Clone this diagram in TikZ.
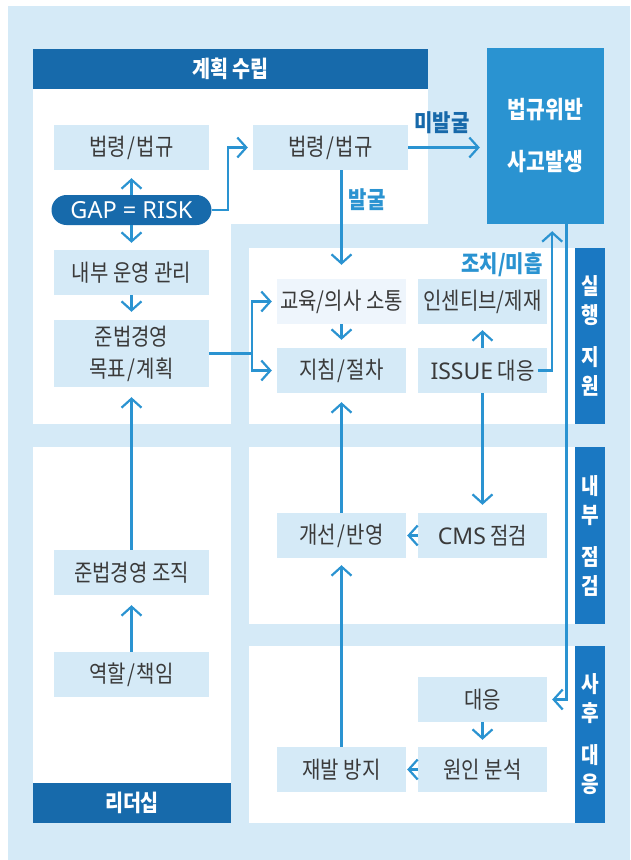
\documentclass[tikz,border=0pt]{standalone}
\usepackage{fontspec}
\setmainfont{Noto Sans CJK KR}[FakeStretch=0.85]
\newfontfamily\lat{Noto Sans}
\usetikzlibrary{arrows.meta}
\definecolor{bgl}{HTML}{D5EAF7}
\definecolor{hdr}{HTML}{176AAB}
\definecolor{bigc}{HTML}{2A93D1}
\definecolor{sidec}{HTML}{1A78C2}
\definecolor{arrc}{HTML}{2A93D1}
\definecolor{txtc}{HTML}{3A3A3A}
\definecolor{litec}{HTML}{EEF5FC}
\definecolor{lblc}{HTML}{1769AA}
\newcommand{\sls}{\kern1.5pt/\kern1.5pt}
\begin{document}
\begin{tikzpicture}[x=1pt,y=-1pt,
  box/.style={fill=bgl, text=txtc, minimum height=45pt, inner sep=0pt, align=center,
    font=\fontsize{23.5}{28}\selectfont},
  wbox/.style={box, minimum width=155pt},
  nbox/.style={box, minimum width=129pt},
  hdrbox/.style={fill=hdr, text=white, inner sep=0pt, minimum height=40pt,
    minimum width=198pt, font=\bfseries\fontsize{23}{28}\selectfont},
  sidebox/.style={fill=sidec, text=white, inner sep=0pt, minimum width=30pt,
    align=center, font=\bfseries\fontsize{22.5}{29}\selectfont},
  conn/.style={draw=arrc, line width=2.2pt, -{Straight Barb[length=9pt,width=20pt]}},
  lbl/.style={inner sep=0pt, font=\bfseries\fontsize{23.5}{28}\selectfont},
]
\useasboundingbox (0,0) rectangle (630,860);
\fill[white] (0,0) rectangle (630,860);
\fill[bgl] (8,6) rectangle (630,860);
% planning panel (L-shaped)
\fill[white] (33,89) rectangle (428,224);
\fill[white] (33,224) rectangle (231,424);
\node[hdrbox, minimum width=395pt] (planh) at (230.5,69) {계획 수립};
% leadership panel
\fill[white] (33,447) rectangle (231,783);
\node[hdrbox] (leadh) at (132,803) {리더십};
% right panels
\fill[white] (249,248) rectangle (575,424);
\fill[white] (249,447) rectangle (575,624);
\fill[white] (249,646) rectangle (575,823);
\node[sidebox, minimum height=176pt] (s1) at (590,336) {실\\행\\[13pt]지\\원};
\node[sidebox, minimum height=177pt] (s2) at (590,535.5) {내\\부\\[13pt]점\\검};
\node[sidebox, minimum height=177pt] (s3) at (590,734.5) {사\\후\\[13pt]대\\응};
% big box
\node[fill=bigc, text=white, inner sep=0pt, minimum width=117pt, minimum height=176pt,
  align=center, font=\bfseries\fontsize{24}{52}\selectfont] (viol) at (545.5,136) {법규위반\\사고발생};
% left column
\node[wbox] (blL) at (131.5,147.5) {법령\sls 법규};
\node[fill=hdr, text=white, rounded corners=15pt, minimum width=160pt, minimum height=30pt,
  inner sep=0pt, font=\lat\bfseries\fontsize{23.5}{26}\selectfont] (gap) at (131.5,210) {GAP = RISK};
\node[wbox] (ops) at (131.5,272.5) {내부 운영 관리};
\node[wbox, minimum height=67pt, font=\fontsize{23.5}{32}\selectfont] (goal) at (131.5,353.5) {준법경영\\목표\sls 계획};
\node[wbox] (org) at (131.5,572.5) {준법경영 조직};
\node[wbox] (role) at (131.5,674.5) {역할\sls 책임};
% middle / right columns
\node[wbox] (blM) at (330.5,147.5) {법령\sls 법규};
\node[nbox, fill=litec] (edu) at (341.5,301.5) {교육/의사 소통};
\node[nbox] (guide) at (341.5,370.5) {지침\sls 절차};
\node[nbox] (inc) at (482.5,301.5) {인센티브/제재};
\node[nbox] (issue) at (482.5,370.5) {{\lat\fontsize{23}{26}\selectfont ISSUE} 대응};
\node[nbox] (imp) at (341.5,535.5) {개선\sls 반영};
\node[nbox] (cms) at (482.5,535.5) {{\lat\fontsize{23}{26}\selectfont CMS} 점검};
\node[nbox] (resp) at (482.5,699.5) {대응};
\node[nbox] (cause) at (482.5,769.5) {원인 분석};
\node[nbox] (prev) at (341.5,769.5) {재발 방지};
% labels
\node[lbl, text=lblc] (lbA) at (442,123) {미발굴};
\node[lbl, text=arrc] (lbB) at (367,200) {발굴};
\node[lbl, text=arrc] (lbC) at (502,265) {조치/미흡};
% connectors
\draw[conn, shorten >=8pt] (gap.north) -- (blL.south);
\draw[conn, shorten >=7pt] (gap.south) -- (ops.north);
\draw[conn, shorten >=8pt] (ops.south) -- (goal.north);
\draw[conn, shorten >=10pt] (org.north) -- (goal.south);
\draw[conn, shorten >=10pt] (role.north) -- (org.south);
\draw[conn, shorten >=5pt] (gap.east) -| ([xshift=-25pt]blM.west) -- (blM.west);
\draw[conn, shorten >=7pt] (blM.east) -- (viol.west |- blM.east);
\draw[conn, shorten >=14pt] (blM.south -| edu.north) -- (edu.north);
\draw[conn, shorten >=5pt] (goal.east) -| ([xshift=-25pt]edu.west) -- (edu.west);
\draw[conn, shorten >=5pt] (goal.east) -| ([xshift=-25pt]guide.west) -- (guide.west);
\draw[conn, shorten >=8pt] (edu.south) -- (guide.north);
\draw[conn, shorten >=6pt] (issue.north) -- (inc.south);
\coordinate (ie) at ([xshift=5pt]issue.east);
\draw[conn, shorten >=7pt] ([xshift=-9pt]issue.east) -- (ie) -- (ie |- viol.south);
\draw[conn, shorten >=8pt] (issue.south) -- (cms.north);
\draw[conn, shorten >=1pt] (cms.west) -- (imp.east);
\draw[conn, shorten >=9pt] (imp.north) -- (guide.south);
\draw[conn, shorten >=7pt] (prev.north) -- (imp.south);
\coordinate (vo) at ([xshift=21pt]viol.south);
\draw[conn, shorten >=5pt] (vo) |- (resp.east);
\draw[conn, shorten >=7pt] (resp.south) -- (cause.north);
\draw[conn, shorten >=1pt] (cause.west) -- (prev.east);
\end{tikzpicture}
\end{document}
